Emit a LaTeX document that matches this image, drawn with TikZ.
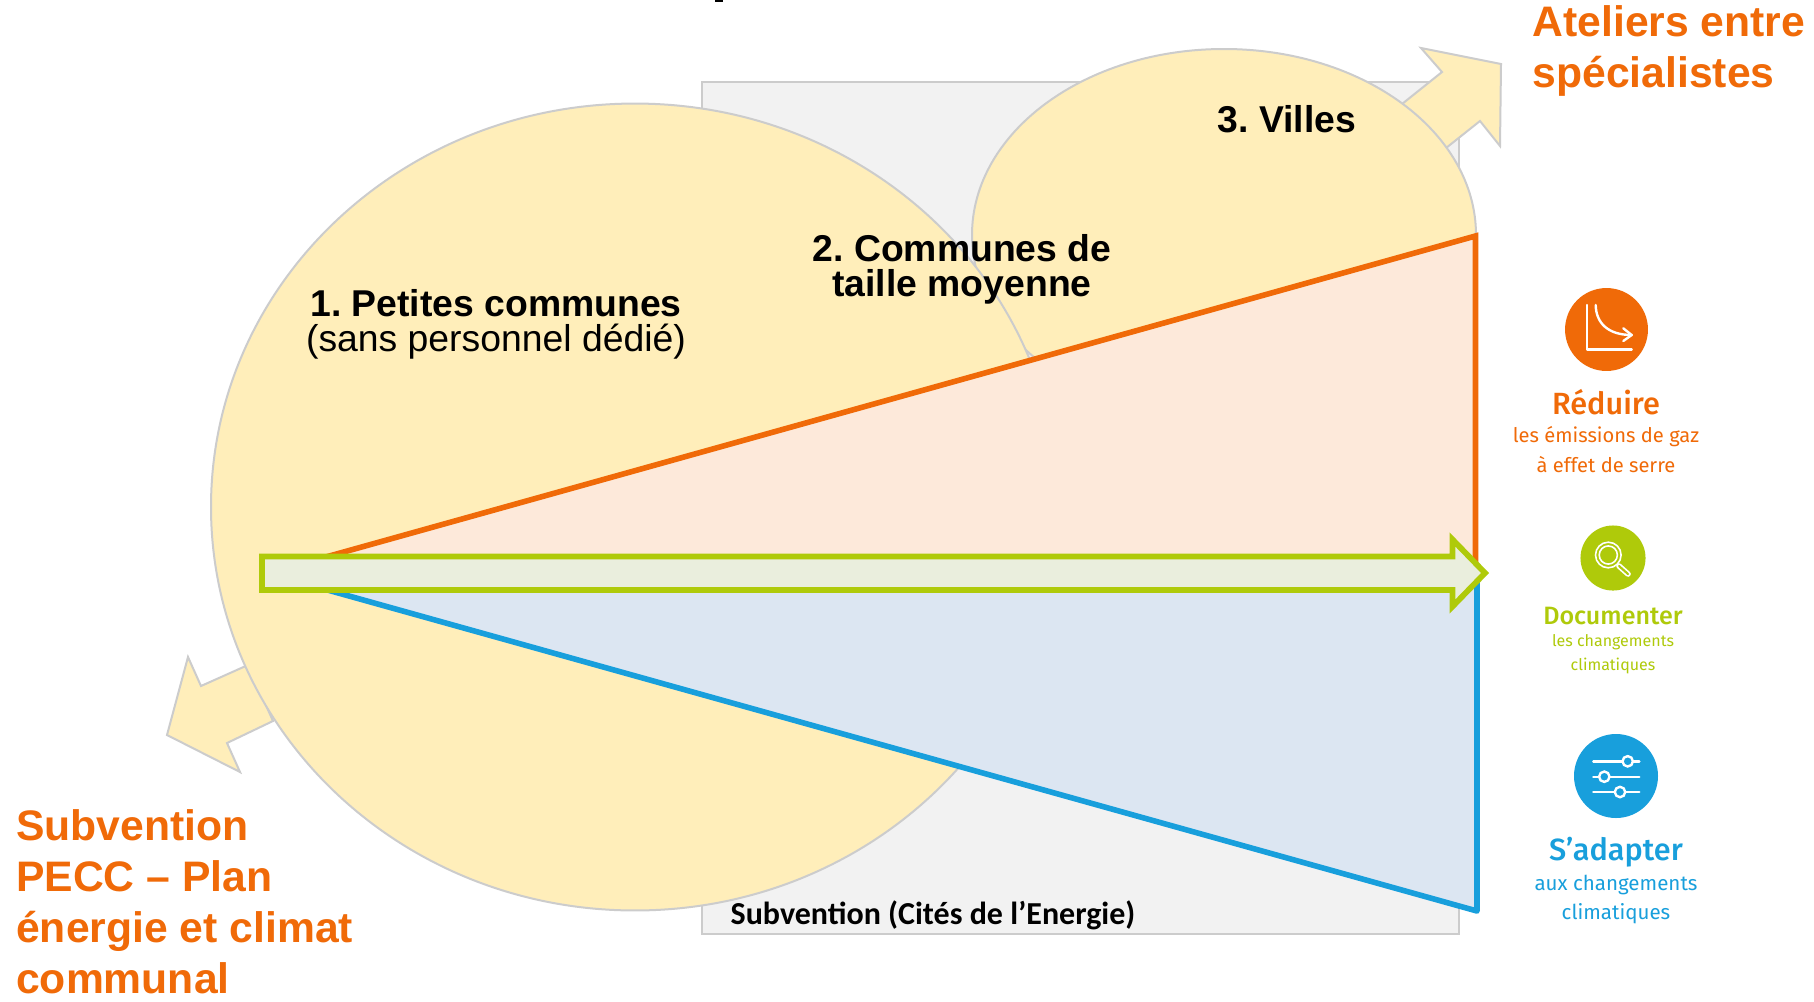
\documentclass[tikz,border=0pt]{standalone}
\usepackage{fontspec}
\setmainfont{Liberation Sans}
\newfontfamily\iconfont{Fira Sans}
\newfontfamily\iconhead{Fira Sans Medium}
\newfontfamily\calfont{Carlito}
\frenchspacing
\definecolor{cOrange}{HTML}{F06A08}
\definecolor{cGreen}{HTML}{AFCA0A}
\definecolor{cBlue}{HTML}{189FDC}
\definecolor{cYellow}{HTML}{FFEEBA}
\definecolor{cGrey}{HTML}{CCCCCC}
\definecolor{cPanel}{HTML}{F2F2F2}
\definecolor{cOrangeFill}{HTML}{FDE9DA}
\definecolor{cBlueFill}{HTML}{DCE6F2}
\definecolor{cArrowFill}{HTML}{EAEEDD}
\tikzset{
  greyshape/.style={draw=cGrey,line width=1.5pt,fill=cYellow,line join=miter},
  bigtitle/.style={inner sep=0pt,text=cOrange,font=\fontsize{32}{38.2}\selectfont\bfseries,align=left},
  blacktitle/.style={inner sep=0pt,text=black,font=\fontsize{28}{26.2}\selectfont,align=center},
  headtxt/.style={inner sep=0pt,font=\iconhead\fontsize{#1}{24}\selectfont},
  subtxt/.style={inner sep=0pt,font=\iconfont\fontsize{#1}{17}\selectfont},
  iconline/.style={draw=white,line width=1.8pt,line cap=round,line join=round},
}
\begin{document}
\begin{tikzpicture}[x=0.75pt,y=-0.75pt]
\useasboundingbox (0,0) rectangle (1814,1001);
\fill[white] (0,0) rectangle (1814,1001);
% top mark
\fill[black] (715,0) rectangle (723,2);
% panel
\draw[draw=cGrey,line width=1.5pt,fill=cPanel] (702,82) rectangle (1459,934);
% outward arrows
\draw[greyshape] (1421,48) -- (1501,64) -- (1500,146) -- (1480,121) -- (1441,152) -- (1402,104) -- (1442,72) -- cycle;
\draw[greyshape] (188,657) -- (201,686) -- (248,665) -- (273,721) -- (227,743) -- (240,772) -- (167,735) -- cycle;
% circles
\draw[greyshape] (1224,235) ellipse [x radius=189pt,y radius=139.5pt];
\draw[greyshape] (635,507) ellipse [x radius=318pt,y radius=302.6pt];
% triangles
\fill[cOrangeFill] (290,567) -- (1475.5,236) -- (1475.5,573) -- (290,573) -- cycle;
\draw[cOrange,line width=4.2pt,line join=miter] (290,567) -- (1475.5,236) -- (1475.5,575);
\fill[cBlueFill] (290,573) -- (1477,573) -- (1477,911) -- (290,579.5) -- cycle;
\draw[cBlue,line width=4.2pt,line join=round] (290,579.5) -- (1477,911) -- (1477,571);
% green arrow
\draw[draw=cGreen,fill=cArrowFill,line width=4.3pt,line join=miter]
  (262,556.5) -- (1452.5,556.5) -- (1452.5,539.5) -- (1485,573) -- (1452.5,606.5) -- (1452.5,590) -- (262,590) -- cycle;
% labels
\node[bigtitle,anchor=center,align=left] (ateliers) at (1669,51) {Ateliers entre\\spécialistes};
\node[bigtitle,anchor=west] (pecc) at (16,901.5) {Subvention\\PECC – Plan\\énergie et climat\\communal};
\node[blacktitle] (petites) at (496,324.5) {\bfseries 1. Petites communes\\(sans personnel dédié)};
\node[blacktitle] (moyenne) at (962,269) {\bfseries 2. Communes de\\\bfseries taille moyenne};
\node[blacktitle] (villes) at (1287,119) {\bfseries 3. Villes};
\node[inner sep=0pt,font=\calfont\fontsize{24}{28}\selectfont\bfseries] (citeslabel) at (933,915) {Subvention (Cités de l’Energie)};
% Reduire
\fill[cOrange] (1606.5,329.5) circle [radius=31.1pt];
\draw[iconline] (1586.7,305) -- (1586.7,349.3) -- (1631.7,349.3);
\draw[iconline] (1595.7,305) .. controls (1596,323) and (1608,335) .. (1631.7,335);
\draw[iconline] (1623.3,328.3) -- (1631.7,335) -- (1623.3,341);
\node[headtxt=23,text=cOrange] (reduire) at (1606,402) {Réduire};
\node[subtxt=15.1,text=cOrange] (reduire1) at (1606,437) {les émissions de gaz};
\node[subtxt=15.1,text=cOrange] (reduire2) at (1606,465) {à effet de serre};
% Documenter
\fill[cGreen] (1613,558) circle [radius=24.4pt];
\draw[white,line width=1.2pt] (1608.3,555) circle [radius=9.6pt];
\draw[white,line width=1.2pt] (1608.3,555) circle [radius=6.8pt];
\draw[white,line width=4.2pt,line cap=round] (1619,566) -- (1628,574);
\draw[cGreen,line width=1.6pt,line cap=round] (1619,566) -- (1628,574);
\node[headtxt=18.8,text=cGreen] (documenter) at (1613,616) {Documenter};
\node[subtxt=12,text=cGreen] (doc1) at (1613,642.5) {les changements};
\node[subtxt=12,text=cGreen] (doc2) at (1613,665.5) {climatiques};
% Adapter
\fill[cBlue] (1616,776) circle [radius=31.5pt];
\draw[iconline] (1593.3,761.3) -- (1639.3,761.3);
\draw[iconline] (1593.3,776.7) -- (1639.3,776.7);
\draw[iconline] (1593.3,792) -- (1639.3,792);
\draw[white,line width=1.8pt,fill=cBlue] (1627.7,761.3) circle [radius=3.9pt];
\draw[white,line width=1.8pt,fill=cBlue] (1604.3,776.7) circle [radius=3.9pt];
\draw[white,line width=1.8pt,fill=cBlue] (1620,792) circle [radius=3.9pt];
\node[headtxt=23,text=cBlue] (adapter) at (1616,852) {S’adapter};
\node[subtxt=15.4,text=cBlue] (ad1) at (1616,885) {aux changements};
\node[subtxt=15.4,text=cBlue] (ad2) at (1616,914) {climatiques};
\end{tikzpicture}
\end{document}
